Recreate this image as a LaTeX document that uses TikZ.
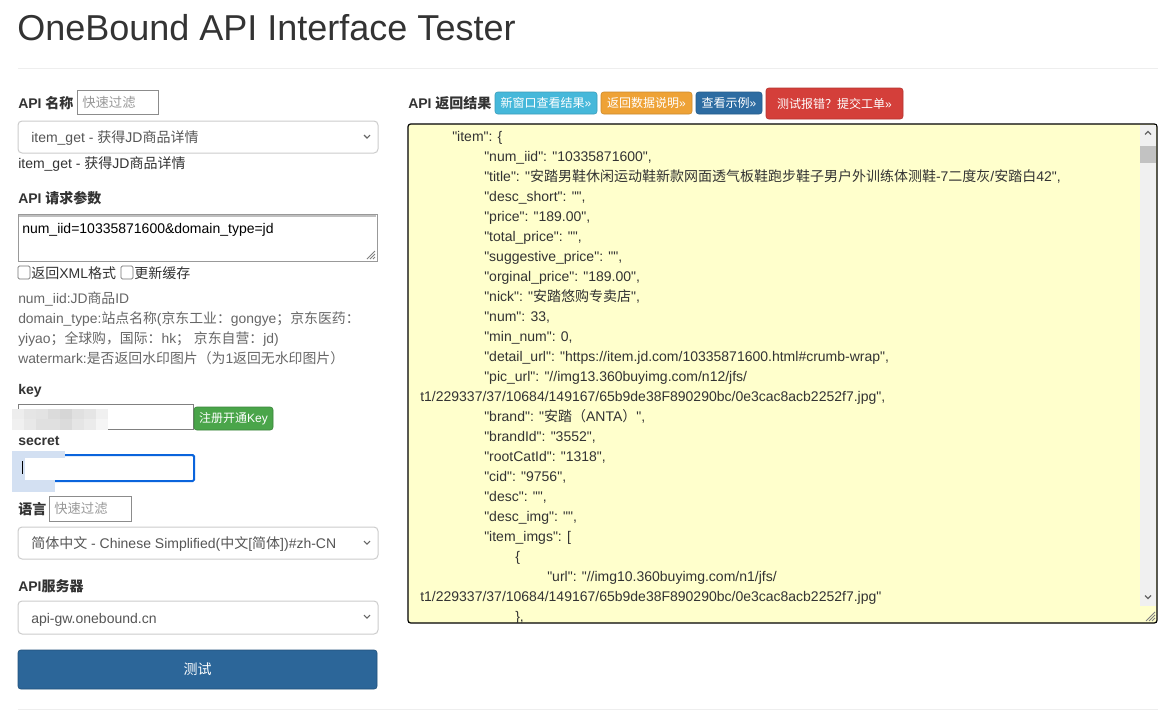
\documentclass[tikz,border=0pt]{standalone}
\usepackage{fontspec}
\setmainfont{Liberation Sans}
\newfontfamily\latinfont{Liberation Sans}
\newfontfamily\cjkfont{Noto Sans CJK SC}
% switch to the CJK font for Chinese characters
\XeTeXinterchartokenstate=1
\newXeTeXintercharclass\zhclass
\newcount\zhc
\newcommand\zhrange[2]{\zhc=#1\relax\loop\XeTeXcharclass\zhc=\zhclass\ifnum\zhc<#2\advance\zhc by 1\repeat}
\zhrange{"3000}{"303F}
\zhrange{"4E00}{"9FFF}
\zhrange{"FF00}{"FFEF}
\XeTeXinterchartoks 0 \zhclass = {\cjkfont}
\XeTeXinterchartoks 4095 \zhclass = {\cjkfont}
\XeTeXinterchartoks \zhclass 0 = {\latinfont}
\XeTeXinterchartoks \zhclass 4095 = {\latinfont}
\definecolor{txt}{HTML}{333333}
\definecolor{helptxt}{HTML}{666666}
\definecolor{holder}{HTML}{999999}
\definecolor{selborder}{HTML}{CCCCCC}
\definecolor{seltxt}{HTML}{555555}
\definecolor{rule}{HTML}{EEEEEE}
\definecolor{okgreen}{HTML}{4AA54A}
\definecolor{infocyan}{HTML}{46B8DA}
\definecolor{warnorange}{HTML}{EEA236}
\definecolor{darkblue}{HTML}{2D6CA2}
\definecolor{errred}{HTML}{D43F3A}
\definecolor{testblue}{HTML}{2C6699}
\definecolor{focusblue}{HTML}{0A64DC}
\definecolor{resultbg}{HTML}{FFFFCC}
\definecolor{blurblue}{HTML}{D3E0F2}
\begin{document}
\latinfont
\begin{tikzpicture}[x=0.75pt,y=-0.75pt,
  txtnode/.style={anchor=base west, inner sep=0pt, text=txt},
  lbl/.style={txtnode, font=\latinfont\bfseries\fontsize{10.5}{12}\selectfont},
  help/.style={txtnode, text=helptxt, font=\latinfont\fontsize{10.4}{12}\selectfont},
  seltext/.style={txtnode, text=seltxt, font=\latinfont\fontsize{10.5}{12}\selectfont},
  holdtext/.style={txtnode, text=holder, font=\latinfont\fontsize{10}{12}\selectfont},
  json/.style={txtnode, font=\latinfont\fontsize{10.5}{12}\selectfont},
  selbox/.style={draw=selborder, fill=white, rounded corners=3pt, line width=0.75pt},
  inbox/.style={draw=black!45, fill=white, line width=0.75pt},
  chkbox/.style={draw=black!55, fill=white, rounded corners=1pt, line width=0.6pt},
  btn/.style={rectangle, rounded corners=2pt, text=white, inner sep=0pt,
    font=\latinfont\fontsize{9}{11}\selectfont},
  chev/.style={draw=black!60, line width=0.8pt}]
\fill [white] (0,0) rectangle (1175,711);
\useasboundingbox (0,0) rectangle (1175,711);
\node [txtnode, font=\latinfont\fontsize{27}{32}\selectfont] (title) at (17,40) {OneBound API Interface Tester};
\draw [rule, line width=0.75pt] (18,68) -- (1158,68);
\draw [rule, line width=0.75pt] (18,709) -- (1158,709);
% left column
\node [lbl] (apiname) at (18,108) {API 名称};
\draw [inbox] (77,90) rectangle (158,114);
\node [holdtext] (apifilter) at (82,107) {快速过滤};
\draw [selbox] (18,121) rectangle (378,153);
\node [seltext] (apisel) at (31,142) {item\_get - 获得JD商品详情};
\draw [chev] (364,135) -- (367,138) -- (370,135);
\node [txtnode, font=\latinfont\fontsize{10.5}{12}\selectfont] (apidesc) at (18,168) {item\_get - 获得JD商品详情};
\node [lbl] (params) at (18,203) {API 请求参数};
\draw [inbox, draw=black!40] (18,214) rectangle (377,261);
\draw [black!25, line width=1.5pt] (19,215.5) -- (376,215.5);
\node [json, text=black] (paramtext) at (22,233) {num\_iid=10335871600\&domain\_type=jd};
\draw [black!50, line width=0.6pt] (367,259) -- (375,251) (370,259) -- (375,254) (373,259) -- (375,257);
\draw [chkbox] (18,266) rectangle (30,279);
\node [json] (xmlchk) at (31,278) {返回XML格式};
\draw [chkbox] (121,266) rectangle (133,279);
\node [json] (cachechk) at (134,278) {更新缓存};
\node [help] (help1) at (18,303) {num\_iid:JD商品ID};
\node [help] (help2) at (18,323) {domain\_type:站点名称(京东工业：gongye；京东医药：};
\node [help] (help3) at (18,343) {yiyao；全球购，国际：hk； 京东自营：jd)};
\node [help] (help4) at (18,363) {watermark:是否返回水印图片（为1返回无水印图片）};
\node [lbl] (key) at (18,394) {key};
\draw [inbox, draw=black!50] (18,404) rectangle (193,429);
\foreach \x/\c in {12/7,24/10,36/11,48/14,60/16,72/12,84/10,96/6}
  \fill [black!\c] (\x,409) rectangle (\x+12,419);
\foreach \x/\c in {12/6,24/9,36/12,48/12,60/14,72/10,84/8,96/4}
  \fill [black!\c] (\x,419) rectangle (\x+12,430);
\node [btn, fill=okgreen, draw=okgreen!80!black, minimum width=79*0.75pt, minimum height=23*0.75pt] (regkey) at (233.5,418.5) {注册开通Key};
\node [lbl] (secret) at (18,445) {secret};
\draw [focusblue, line width=1.5pt, rounded corners=1pt] (18,455) rectangle (194,481);
\fill [blurblue] (12,451) rectangle (65,458);
\fill [blurblue] (12,451) rectangle (25,492);
\fill [blurblue] (12,480) rectangle (55,492);
\draw [black, line width=0.75pt] (22,461) -- (22,474);
\node [lbl] (lang) at (18,514) {语言};
\draw [inbox] (49,496) rectangle (131,521);
\node [holdtext] (langfilter) at (54,513) {快速过滤};
\draw [selbox] (18,527) rectangle (378,559);
\node [seltext] (langsel) at (31,548) {简体中文 - Chinese Simplified(中文[简体])\#zh-CN};
\draw [chev] (364,541) -- (367,544) -- (370,541);
\node [lbl] (server) at (18,591) {API服务器};
\draw [selbox] (18,601) rectangle (378,634);
\node [seltext] (serversel) at (31,623) {api-gw.onebound.cn};
\draw [chev] (364,615) -- (367,618) -- (370,615);
\node [btn, fill=testblue, draw=testblue!80!black, minimum width=359*0.75pt, minimum height=39*0.75pt,
  font=\latinfont\fontsize{10.5}{12}\selectfont] (test) at (197.5,669.5) {测试};
% right column
\node [lbl] (result) at (408,108) {API 返回结果};
\node [btn, fill=infocyan, draw=infocyan!85!black, minimum width=102*0.75pt, minimum height=22*0.75pt] (newwin) at (546,103) {新窗口查看结果»};
\node [btn, fill=warnorange, draw=warnorange!85!black, minimum width=91*0.75pt, minimum height=22*0.75pt] (datadoc) at (646.5,103) {返回数据说明»};
\node [btn, fill=darkblue, draw=darkblue!85!black, minimum width=66*0.75pt, minimum height=22*0.75pt] (example) at (729,103) {查看示例»};
\node [btn, fill=errred, draw=errred!85!black, minimum width=137*0.75pt, minimum height=31*0.75pt] (report) at (834.5,103.5) {测试报错？提交工单»};
\draw [fill=resultbg, draw=black, line width=0.9pt, rounded corners=2pt] (408,124) rectangle (1157,623);
\fill [black!6] (1140,125) rectangle (1156,606);
\fill [black!24] (1140,146) rectangle (1156,163);
\draw [chev, line width=1pt] (1145,134.5) -- (1148,131.5) -- (1151,134.5);
\draw [chev, line width=1pt] (1145,595.5) -- (1148,598.5) -- (1151,595.5);
\draw [black!50, line width=0.6pt] (1146,621) -- (1155,612) (1149,621) -- (1155,615) (1152,621) -- (1155,618);
\begin{scope}
\clip (409,125) rectangle (1139,622);
\node [json] (j1) at (452,141) {"item": \{};
\node [json] (j2) at (484,161) {"num\_iid": "10335871600",};
\node [json] (j3) at (484,181) {"title": "安踏男鞋休闲运动鞋新款网面透气板鞋跑步鞋子男户外训练体测鞋-7二度灰/安踏白42",};
\node [json] (j4) at (484,201) {"desc\_short": "",};
\node [json] (j5) at (484,221) {"price": "189.00",};
\node [json] (j6) at (484,241) {"total\_price": "",};
\node [json] (j7) at (484,261) {"suggestive\_price": "",};
\node [json] (j8) at (484,281) {"orginal\_price": "189.00",};
\node [json] (j9) at (484,301) {"nick": "安踏悠购专卖店",};
\node [json] (j10) at (484,321) {"num": 33,};
\node [json] (j11) at (484,341) {"min\_num": 0,};
\node [json] (j12) at (484,361) {"detail\_url": "https://item.jd.com/10335871600.html\#crumb-wrap",};
\node [json] (j13) at (484,381) {"pic\_url": "//img13.360buyimg.com/n12/jfs/};
\node [json] (j14) at (420,401) {t1/229337/37/10684/149167/65b9de38F890290bc/0e3cac8acb2252f7.jpg",};
\node [json] (j15) at (484,421) {"brand": "安踏（ANTA）",};
\node [json] (j16) at (484,441) {"brandId": "3552",};
\node [json] (j17) at (484,461) {"rootCatId": "1318",};
\node [json] (j18) at (484,481) {"cid": "9756",};
\node [json] (j19) at (484,501) {"desc": "",};
\node [json] (j20) at (484,521) {"desc\_img": "",};
\node [json] (j21) at (484,541) {"item\_imgs": [};
\node [json] (j22) at (515,561) {\{};
\node [json] (j23) at (547,581) {"url": "//img10.360buyimg.com/n1/jfs/};
\node [json] (j24) at (420,601) {t1/229337/37/10684/149167/65b9de38F890290bc/0e3cac8acb2252f7.jpg"};
\node [json] (j25) at (515,621) {\},};
\end{scope}
\end{tikzpicture}
\end{document}
